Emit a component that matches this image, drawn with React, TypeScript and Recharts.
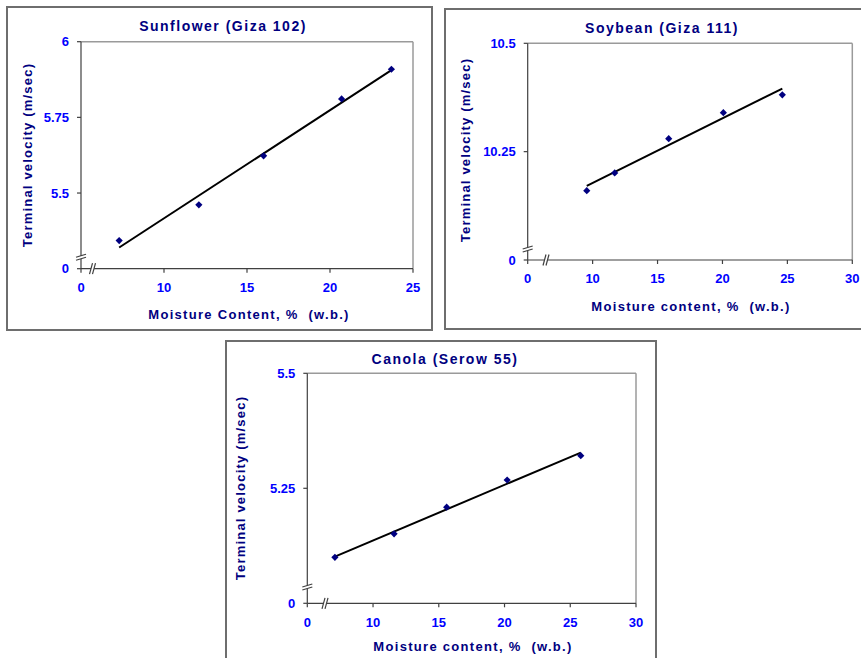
import React from 'react';
import { ScatterChart, Scatter, XAxis, YAxis, ReferenceLine, ReferenceDot } from 'recharts';

// ---- Data ----
// Sunflower (Giza 102)
const sunflowerMoisture = [7.3, 12.1, 16.0, 20.7, 23.7];
const sunflowerVelocity = [5.343, 5.461, 5.623, 5.811, 5.909];
const sunflowerXTicks = [5, 10, 15, 20, 25]; // first tick is shown as "0" (axis break)
const sunflowerYTicks = [5.25, 5.5, 5.75, 6]; // first tick is shown as "0" (axis break)

// Soybean (Giza 111)
const soybeanMoisture = [9.55, 11.7, 15.86, 20.07, 24.61];
const soybeanVelocity = [10.16, 10.201, 10.28, 10.34, 10.381];
const soybeanXTicks = [5, 10, 15, 20, 25, 30];
const soybeanYTicks = [10, 10.25, 10.5];

// Canola (Serow 55)
const canolaMoisture = [7.1, 11.6, 15.6, 20.2, 25.8];
const canolaVelocity = [5.1, 5.151, 5.209, 5.268, 5.321];
const canolaXTicks = [5, 10, 15, 20, 25, 30];
const canolaYTicks = [5, 5.25, 5.5];

const FONT = '"Liberation Sans", Arial, sans-serif';
const NAVY = '#000080';
const BLUE = '#0000ff';
const AXIS = '#404040';
const FRAME = '#9a9a9a';

function linearTrend(xs: number[], ys: number[]) {
  const n = xs.length;
  const mx = xs.reduce((a, b) => a + b, 0) / n;
  const my = ys.reduce((a, b) => a + b, 0) / n;
  let sxy = 0;
  let sxx = 0;
  for (let i = 0; i < n; i++) {
    sxy += (xs[i] - mx) * (ys[i] - my);
    sxx += (xs[i] - mx) * (xs[i] - mx);
  }
  const b = sxy / sxx;
  const a = my - b * mx;
  const x0 = Math.min(...xs);
  const x1 = Math.max(...xs);
  return [
    { x: x0, y: a + b * x0 },
    { x: x1, y: a + b * x1 },
  ];
}

const Diamond = (props: any) => {
  const { cx, cy } = props;
  if (cx == null || cy == null) return <g />;
  const r = 3.6;
  return (
    <polygon
      points={`${cx},${cy - r} ${cx + r},${cy} ${cx},${cy + r} ${cx - r},${cy}`}
      fill={NAVY}
    />
  );
};

const makeBreaks = (xOff: number, yOff: number) => (props: any) => {
  const { cx, cy } = props;
  if (cx == null || cy == null) return <g />;
  const by = cy - yOff;
  const bx = cx + xOff;
  return (
    <g>
      <polygon
        points={`${cx - 5},${by} ${cx + 5},${by - 3} ${cx + 5},${by} ${cx - 5},${by + 3}`}
        fill="#fff"
      />
      <line x1={cx - 5} y1={by} x2={cx + 5} y2={by - 3} stroke={AXIS} strokeWidth={1.2} />
      <line x1={cx - 5} y1={by + 3} x2={cx + 5} y2={by} stroke={AXIS} strokeWidth={1.2} />
      <polygon
        points={`${bx - 3},${cy + 5.5} ${bx},${cy - 5.5} ${bx + 3},${cy - 5.5} ${bx},${cy + 5.5}`}
        fill="#fff"
      />
      <line x1={bx - 3} y1={cy + 5.5} x2={bx} y2={cy - 5.5} stroke={AXIS} strokeWidth={1.2} />
      <line x1={bx} y1={cy + 5.5} x2={bx + 3} y2={cy - 5.5} stroke={AXIS} strokeWidth={1.2} />
    </g>
  );
};

type PanelProps = {
  box: { left: number; top: number; width: number; height: number };
  chart: { left: number; top: number; width: number; height: number };
  plot: { x0: number; x1: number; y0: number; y1: number };
  title: string;
  titlePos: [number, number];
  xTitle: string;
  xTitlePos: [number, number];
  yTitle: string;
  yTitlePos: [number, number];
  moisture: number[];
  velocity: number[];
  xTicks: number[];
  yTicks: number[];
  breakX: number;
  breakY: number;
};

const fmtFirstZero = (ticks: number[]) => (v: number) => (v === ticks[0] ? '0' : String(v));

function Panel(p: PanelProps) {
  const points = p.moisture.map((m, i) => ({ x: m, y: p.velocity[i] }));
  const trend = linearTrend(p.moisture, p.velocity);
  const xMin = p.xTicks[0];
  const xMax = p.xTicks[p.xTicks.length - 1];
  const yMin = p.yTicks[0];
  const yMax = p.yTicks[p.yTicks.length - 1];
  const c = p.chart;
  const yAxisWidth = p.plot.x0 - c.left;
  const marginTop = p.plot.y0 - c.top;
  const marginRight = c.left + c.width - p.plot.x1;
  const xAxisHeight = c.top + c.height - p.plot.y1;
  const textBase: React.CSSProperties = {
    position: 'absolute',
    fontFamily: FONT,
    fontWeight: 'bold',
    color: NAVY,
    whiteSpace: 'pre',
    lineHeight: 1,
  };
  const tickStyle = { fill: BLUE, fontSize: 13, fontWeight: 'bold', fontFamily: FONT } as any;
  return (
    <>
      <div
        style={{
          position: 'absolute',
          left: p.box.left,
          top: p.box.top,
          width: p.box.width,
          height: p.box.height,
          boxSizing: 'border-box',
          border: '2px solid #6e6e6e',
          background: '#fff',
        }}
      />
      <div style={{ position: 'absolute', left: c.left, top: c.top }}>
        <ScatterChart
          width={c.width}
          height={c.height}
          margin={{ top: marginTop, right: marginRight, bottom: 0, left: 0 }}
        >
          <XAxis
            type="number"
            dataKey="x"
            domain={[xMin, xMax]}
            ticks={p.xTicks}
            tickFormatter={fmtFirstZero(p.xTicks)}
            allowDataOverflow
            height={xAxisHeight}
            stroke={AXIS}
            tick={tickStyle}
            tickSize={4}
            tickMargin={10}
            tickLine={{ stroke: AXIS, strokeWidth: 1.2 }}
            axisLine={{ stroke: AXIS, strokeWidth: 1.2 }}
            interval={0}
          />
          <YAxis
            type="number"
            dataKey="y"
            domain={[yMin, yMax]}
            ticks={p.yTicks}
            tickFormatter={fmtFirstZero(p.yTicks)}
            allowDataOverflow
            width={yAxisWidth}
            stroke={AXIS}
            tick={tickStyle}
            tickSize={4}
            tickMargin={8}
            tickLine={{ stroke: AXIS, strokeWidth: 1.2 }}
            axisLine={{ stroke: AXIS, strokeWidth: 1.2 }}
            interval={0}
          />
          <ReferenceLine y={yMax} stroke={FRAME} strokeWidth={1.5} />
          <ReferenceLine x={xMax} stroke={FRAME} strokeWidth={1.5} />
          <Scatter
            data={trend}
            line={{ stroke: '#000', strokeWidth: 2 }}
            shape={() => <g />}
            isAnimationActive={false}
          />
          <Scatter data={points} shape={Diamond} isAnimationActive={false} />
          <ReferenceDot x={xMin} y={yMin} r={0} shape={makeBreaks(p.breakX, p.breakY)} />
        </ScatterChart>
      </div>
      <div
        style={{
          ...textBase,
          left: p.titlePos[0],
          top: p.titlePos[1],
          fontSize: 14,
          letterSpacing: 1.5,
          transform: 'translate(-50%, -50%)',
        }}
      >
        {p.title}
      </div>
      <div
        style={{
          ...textBase,
          left: p.xTitlePos[0],
          top: p.xTitlePos[1],
          fontSize: 13,
          letterSpacing: 1.3,
          transform: 'translate(-50%, -50%)',
        }}
      >
        {p.xTitle}
      </div>
      <div
        style={{
          ...textBase,
          left: p.yTitlePos[0],
          top: p.yTitlePos[1],
          fontSize: 13,
          letterSpacing: 1.2,
          transform: 'translate(-50%, -50%) rotate(-90deg)',
        }}
      >
        {p.yTitle}
      </div>
    </>
  );
}

export default function App() {
  return (
    <div
      style={{
        position: 'absolute',
        left: 0,
        top: 0,
        width: 861,
        height: 658,
        overflow: 'hidden',
        background: '#fff',
      }}
    >
      <Panel
        box={{ left: 6, top: 6, width: 427, height: 325 }}
        chart={{ left: 8, top: 8, width: 423, height: 321 }}
        plot={{ x0: 81, x1: 413, y0: 41.7, y1: 268.7 }}
        title="Sunflower (Giza 102)"
        titlePos={[223, 26]}
        xTitle="Moisture Content, %  (w.b.)"
        xTitlePos={[249, 314]}
        yTitle="Terminal velocity (m/sec)"
        yTitlePos={[27, 155]}
        moisture={sunflowerMoisture}
        velocity={sunflowerVelocity}
        xTicks={sunflowerXTicks}
        yTicks={sunflowerYTicks}
        breakX={11.5}
        breakY={11.5}
      />
      <Panel
        box={{ left: 444, top: 8, width: 430, height: 322 }}
        chart={{ left: 446, top: 10, width: 415, height: 318 }}
        plot={{ x0: 527.7, x1: 852.3, y0: 43.3, y1: 260 }}
        title="Soybean (Giza 111)"
        titlePos={[662, 28]}
        xTitle="Moisture content, %  (w.b.)"
        xTitlePos={[691, 306]}
        yTitle="Terminal velocity (m/sec)"
        yTitlePos={[465, 150]}
        moisture={soybeanMoisture}
        velocity={soybeanVelocity}
        xTicks={soybeanXTicks}
        yTicks={soybeanYTicks}
        breakX={18.3}
        breakY={11}
      />
      <Panel
        box={{ left: 225, top: 340, width: 432, height: 330 }}
        chart={{ left: 227, top: 342, width: 428, height: 316 }}
        plot={{ x0: 307.3, x1: 636, y0: 373.3, y1: 603.3 }}
        title="Canola (Serow 55)"
        titlePos={[445, 359]}
        xTitle="Moisture content, %  (w.b.)"
        xTitlePos={[473, 646]}
        yTitle="Terminal velocity (m/sec)"
        yTitlePos={[240, 487.5]}
        moisture={canolaMoisture}
        velocity={canolaVelocity}
        xTicks={canolaXTicks}
        yTicks={canolaYTicks}
        breakX={17.7}
        breakY={16.3}
      />
    </div>
  );
}
